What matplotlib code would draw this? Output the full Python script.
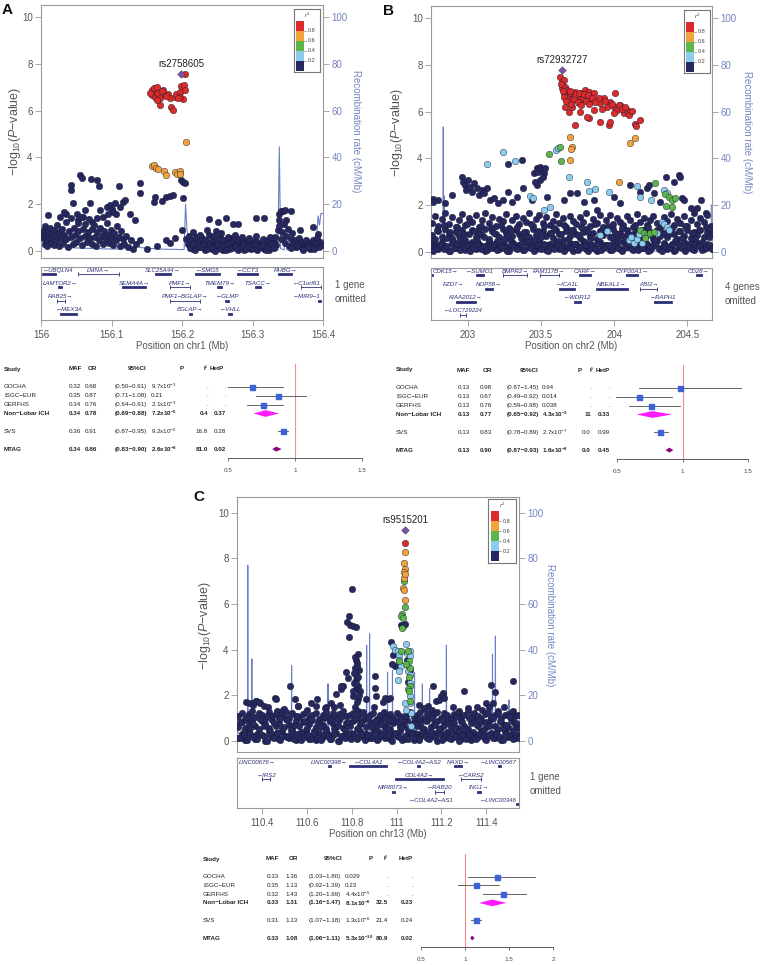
import numpy as np
import matplotlib
matplotlib.use('Agg')
import matplotlib.pyplot as plt
from matplotlib.patches import Polygon

plt.rcParams['font.family'] = ['Liberation Sans', 'DejaVu Sans']
plt.rcParams['mathtext.fontset'] = 'custom'
plt.rcParams['mathtext.rm'] = 'Liberation Sans'
plt.rcParams['mathtext.it'] = 'Liberation Sans:italic'
plt.rcParams['mathtext.bf'] = 'Liberation Sans:bold'

# ---------------- panel A (chr1) ----------------
a_lead = (156.199, 7.57)
a_red_x = [156.157, 156.160, 156.164, 156.158, 156.161, 156.166, 156.169, 156.173, 156.176, 156.180,
           156.183, 156.185, 156.187, 156.190, 156.192, 156.197, 156.199, 156.203, 156.204, 156.202,
           156.197, 156.169, 156.164, 156.155, 156.171, 156.178, 156.194, 156.204]
a_red_y = [6.89, 6.96, 7.00, 6.67, 6.60, 6.77, 6.53, 6.89, 6.67, 6.70,
           6.53, 6.17, 6.03, 6.60, 6.71, 6.81, 7.03, 7.10, 6.89, 6.49,
           6.57, 6.24, 6.46, 6.75, 6.85, 6.62, 6.55, 7.57]
a_orange_x = [156.206, 156.157, 156.160, 156.163, 156.166, 156.175, 156.177, 156.190, 156.193, 156.197, 156.197]
a_orange_y = [4.64, 3.64, 3.67, 3.53, 3.49, 3.43, 3.24, 3.39, 3.31, 3.43, 3.29]
a_navy_x = [156.010, 156.042, 156.043, 156.055, 156.058, 156.071, 156.079, 156.082, 156.110, 156.140,
            156.140, 156.160, 156.162, 156.172, 156.178, 156.183, 156.187, 156.199, 156.201, 156.204,
            156.201, 156.200, 156.093, 156.098, 156.100, 156.102, 156.095, 156.088, 156.105, 156.107,
            156.112, 156.117, 156.119, 156.084, 156.079, 156.060, 156.062, 156.051, 156.046, 156.036,
            156.027, 156.032, 156.069, 156.072, 156.053, 156.126, 156.133, 156.239, 156.251, 156.263,
            156.272, 156.279, 156.305, 156.317, 156.338, 156.341, 156.343, 156.346, 156.355, 156.338,
            156.348, 156.367, 156.386, 156.393]
a_navy_y = [1.53, 2.60, 2.81, 3.24, 3.10, 3.07, 3.03, 2.77, 2.77, 2.91,
            2.46, 2.10, 2.31, 2.13, 2.29, 2.34, 2.39, 3.03, 2.96, 2.89,
            2.27, 0.89, 1.89, 1.96, 1.81, 1.67, 1.60, 1.46, 2.03, 1.60,
            1.89, 2.10, 2.17, 1.74, 1.39, 1.46, 1.74, 1.60, 2.03, 1.60,
            1.46, 1.67, 2.03, 1.24, 1.31, 1.60, 1.31, 1.36, 1.24, 1.39,
            1.17, 1.14, 1.43, 1.41, 1.60, 1.71, 1.69, 1.74, 1.71, 1.31,
            1.31, 0.89, 1.03, 0.74]
a_band_x = [156.002, 156.003, 156.004, 156.005, 156.006, 156.007, 156.008, 156.009, 156.010, 156.011,
            156.013, 156.014, 156.015, 156.016, 156.018, 156.019, 156.020, 156.022, 156.023, 156.025,
            156.026, 156.028, 156.030, 156.031, 156.033, 156.035, 156.036, 156.038, 156.040, 156.042,
            156.043, 156.045, 156.047, 156.048, 156.050, 156.052, 156.053, 156.055, 156.057, 156.058,
            156.060, 156.062, 156.063, 156.065, 156.067, 156.068, 156.070, 156.072, 156.073, 156.075,
            156.077, 156.078, 156.080, 156.082, 156.084, 156.086, 156.088, 156.090, 156.092, 156.093,
            156.095, 156.097, 156.099, 156.100, 156.102, 156.104, 156.106, 156.108, 156.110, 156.112,
            156.114, 156.116, 156.118, 156.121, 156.124, 156.127, 156.131, 156.135, 156.141, 156.150,
            156.165, 156.178, 156.183, 156.190, 156.205, 156.208, 156.210, 156.212, 156.214, 156.216,
            156.218, 156.220, 156.222, 156.224, 156.226, 156.228, 156.230, 156.232, 156.234, 156.236,
            156.238, 156.240, 156.242, 156.244, 156.246, 156.248, 156.250, 156.252, 156.254, 156.256,
            156.258, 156.260, 156.262, 156.264, 156.266, 156.268, 156.270, 156.272, 156.274, 156.276,
            156.278, 156.280, 156.282, 156.284, 156.286, 156.288, 156.290, 156.292, 156.294, 156.296,
            156.298, 156.300, 156.302, 156.304, 156.306, 156.308, 156.310, 156.312, 156.314, 156.316,
            156.318, 156.320, 156.322, 156.324, 156.326, 156.328, 156.330, 156.332, 156.334, 156.336,
            156.338, 156.340, 156.342, 156.344, 156.346, 156.348, 156.350, 156.352, 156.354, 156.356,
            156.358, 156.360, 156.362, 156.364, 156.366, 156.368, 156.370, 156.372, 156.374, 156.376,
            156.378, 156.380, 156.382, 156.384, 156.386, 156.388, 156.390, 156.392, 156.394, 156.396,
            156.398, 156.215, 156.225, 156.235, 156.245, 156.255, 156.265, 156.275, 156.285, 156.295,
            156.305, 156.315, 156.325]
a_band_y = [0.75, 0.55, 0.90, 0.30, 1.05, 0.70, 0.45, 0.20, 0.85, 0.60,
            1.00, 0.35, 0.75, 0.55, 0.90, 0.25, 0.65, 0.45, 1.10, 0.80,
            0.20, 0.60, 0.95, 0.35, 0.70, 1.25, 0.50, 0.15, 0.85, 0.60,
            1.40, 0.30, 1.00, 0.70, 0.40, 1.20, 0.85, 0.55, 1.45, 0.25,
            0.95, 0.65, 1.15, 0.40, 0.80, 1.35, 0.55, 0.30, 0.95, 1.10,
            0.60, 0.20, 0.80, 0.45, 1.00, 0.65, 0.30, 0.85, 0.50, 1.20,
            0.70, 0.35, 0.90, 0.55, 0.25, 0.75, 0.45, 1.05, 0.60, 0.20,
            0.85, 0.50, 0.30, 0.65, 0.15, 0.45, 0.10, 0.30, 0.45, 0.10,
            0.20, 0.45, 0.35, 0.55, 0.50, 0.30, 0.65, 0.20, 0.45, 0.10,
            0.35, 0.60, 0.25, 0.40, 0.15, 0.55, 0.30, 0.05, 0.45, 0.20,
            0.70, 0.35, 0.10, 0.50, 0.25, 0.85, 0.40, 0.15, 0.60, 0.30,
            0.05, 0.45, 0.20, 0.35, 0.10, 0.55, 0.25, 0.40, 0.15, 0.30,
            0.50, 0.10, 0.35, 0.20, 0.45, 0.05, 0.30, 0.15, 0.40, 0.25,
            0.10, 0.35, 0.20, 0.45, 0.05, 0.30, 0.15, 0.40, 0.25, 0.10,
            0.35, 0.20, 0.45, 0.05, 0.30, 0.15, 0.40, 0.60, 0.25, 0.90,
            1.05, 0.50, 0.80, 1.15, 0.35, 0.65, 0.95, 0.20, 0.50, 0.75,
            0.30, 0.45, 0.15, 0.35, 0.55, 0.20, 0.40, 0.10, 0.30, 0.45,
            0.20, 0.35, 0.10, 0.25, 0.45, 0.15, 0.35, 0.55, 0.20, 0.40,
            0.25, 0.80, 0.70, 0.90, 0.65, 0.75, 0.60, 0.70, 0.60, 0.55,
            0.65, 0.50, 0.60]
a_band2_x = [156.211, 156.215, 156.219, 156.223, 156.227, 156.231, 156.235, 156.239, 156.243, 156.247,
             156.251, 156.255, 156.259, 156.263, 156.267, 156.271, 156.275, 156.279, 156.283, 156.287,
             156.291, 156.295, 156.299, 156.303, 156.307, 156.311, 156.315, 156.319, 156.323, 156.327,
             156.331, 156.355, 156.363, 156.371, 156.379, 156.387, 156.395]
a_band2_y = [0.12, 0.28, 0.05, 0.22, 0.15, 0.30, 0.08, 0.25, 0.18, 0.02,
             0.27, 0.10, 0.20, 0.06, 0.29, 0.14, 0.23, 0.04, 0.17, 0.26,
             0.09, 0.21, 0.13, 0.30, 0.07, 0.19, 0.24, 0.03, 0.16, 0.28,
             0.11, 0.12, 0.25, 0.06, 0.18, 0.08, 0.15]
a_rec_x = [156.000, 156.030, 156.060, 156.090, 156.115, 156.125, 156.130, 156.135, 156.140, 156.150,
           156.170, 156.200, 156.203, 156.205, 156.207, 156.209, 156.212, 156.250, 156.300, 156.336,
           156.338, 156.340, 156.345, 156.347, 156.349, 156.370, 156.390, 156.393, 156.395, 156.397, 156.400]
a_rec_y = [1.8, 1.5, 1.2, 0.9, 0.8, 2.0, 3.5, 4.0, 1.5, 1.2,
           0.8, 0.6, 0.6, 20.0, 9.0, 6.0, 0.4, 0.3, 0.3, 0.3,
           44.5, 1.0, 0.5, 9.0, 0.5, 0.5, 0.6, 15.0, 11.0, 16.0, 16.0]
a_gene_names = ['UBQLN4', 'LMNA', 'SLC25A44', 'SMG5', 'CCT3', 'RHBG', 'LAMTOR2', 'SEMA4A', 'PMF1', 'TMEM79',
                'TSACC', 'C1orf61', 'RAB25', 'PMF1−BGLAP', 'GLMP', 'MIR9−1', 'MEX3A', 'BGLAP', 'VHLL']
a_gene_start = [156.003, 156.053, 156.163, 156.220, 156.279, 156.338, 156.025, 156.117, 156.183, 156.251,
                156.305, 156.369, 156.022, 156.183, 156.263, 156.395, 156.029, 156.211, 156.267]
a_gene_end = [156.020, 156.110, 156.183, 156.253, 156.307, 156.355, 156.028, 156.147, 156.211, 156.256,
              156.310, 156.397, 156.034, 156.225, 156.265, 156.396, 156.050, 156.213, 156.269]
a_gene_row = [0, 0, 0, 0, 0, 0, 1, 1, 1, 1, 1, 1, 2, 2, 2, 2, 3, 3, 3]
a_gene_strand = ['-', '+', '+', '-', '-', '+', '+', '+', '+', '+', '+', '-', '+', '+', '-', '-', '-', '+', '-']
a_gene_solid = [1, 0, 1, 1, 1, 1, 1, 1, 0, 1, 1, 0, 0, 0, 1, 1, 1, 1, 1]

a_study = ['GOCHA', 'ISGC−EUR', 'GERFHS', 'Non−Lobar ICH', 'SVS', 'MTAG']
a_maf = [0.32, 0.35, 0.34, 0.34, 0.36, 0.34]
a_or = [0.68, 0.87, 0.76, 0.78, 0.91, 0.86]
a_lo = [0.50, 0.71, 0.64, 0.69, 0.87, 0.83]
a_hi = [0.91, 1.08, 0.91, 0.88, 0.95, 0.90]
a_p = ['9.7x10^-3', '0.21', '2.1x10^-3', '7.2x10^-5', '9.2x10^-5', '2.6x10^-8']
a_i2 = ['.', '.', '.', '0.4', '16.8', '81.0']
a_hetp = ['.', '.', '.', '0.37', '0.28', '0.02']

# ---------------- panel B (chr2) ----------------
b_lead = (203.642, 7.79)
b_red_x = [203.631, 203.642, 203.654, 203.642, 203.665, 203.654, 203.677, 203.688, 203.700, 203.711,
           203.722, 203.734, 203.745, 203.757, 203.768, 203.780, 203.791, 203.803, 203.814, 203.825,
           203.837, 203.860, 203.883, 203.905, 203.928, 203.951, 203.974, 203.997, 204.008, 204.020,
           204.043, 204.066, 204.088, 204.111, 204.146, 204.180, 204.148, 203.734, 203.825, 203.905,
           203.963, 203.974, 203.665, 203.688, 203.711, 203.768, 203.814, 203.860, 203.997, 203.636,
           203.648, 203.660, 203.672, 203.695, 203.705, 203.728, 203.740, 203.750, 203.762, 203.775,
           203.785, 203.797, 203.808, 203.820, 203.830, 203.845, 203.870, 203.895, 203.915, 203.940,
           203.985, 204.030, 204.055, 204.075, 204.100, 204.123]
b_red_y = [7.50, 7.29, 7.36, 7.00, 7.07, 6.79, 6.93, 6.64, 6.79, 6.50,
           6.71, 6.86, 6.57, 6.36, 6.64, 6.79, 6.50, 6.93, 6.64, 6.86,
           6.50, 6.79, 6.50, 6.36, 6.57, 6.21, 6.43, 6.21, 6.79, 6.07,
           6.29, 5.93, 6.07, 6.00, 5.47, 5.64, 5.39, 5.43, 5.71, 5.57,
           5.43, 5.57, 6.21, 6.00, 6.21, 6.00, 5.76, 6.07, 5.93, 7.20,
           6.90, 6.65, 6.45, 6.90, 6.35, 6.55, 6.75, 6.40, 6.80, 6.30,
           6.60, 6.75, 6.45, 6.70, 6.35, 6.60, 6.40, 6.60, 6.10, 6.45,
           6.35, 6.30, 6.10, 6.20, 5.85, 6.05]
b_orange_x = [203.700, 203.711, 203.705, 203.700, 204.036, 204.111, 204.146]
b_orange_y = [4.93, 4.50, 4.39, 3.93, 3.00, 4.67, 4.86]
b_green_x = [203.551, 203.631, 203.638, 204.283, 204.351, 204.374, 204.397, 204.420, 204.356, 204.397,
             204.180, 204.203, 204.226, 204.248, 204.271, 204.214]
b_green_y = [4.19, 4.50, 3.90, 2.93, 2.47, 2.36, 2.21, 2.29, 1.97, 1.90,
             0.93, 0.79, 0.71, 0.79, 0.86, 0.57]
b_lblue_x = [203.132, 203.242, 203.318, 203.425, 203.443, 203.517, 203.562, 203.604, 203.613, 203.688,
             203.814, 203.825, 203.867, 203.963, 204.157, 204.180, 204.253, 204.340, 204.363, 203.905,
             203.951, 204.100, 204.116, 204.134, 204.157, 204.168, 204.191, 204.294, 204.328, 204.340,
             204.363, 204.374]
b_lblue_y = [3.74, 4.29, 3.90, 2.39, 2.31, 1.79, 1.90, 4.36, 4.46, 3.21,
             3.00, 2.61, 2.67, 2.57, 2.81, 2.33, 2.21, 2.64, 2.50, 0.71,
             0.90, 0.50, 0.61, 0.39, 0.53, 0.76, 0.36, 0.79, 1.29, 1.19,
             1.07, 0.93]
b_navy_x = [202.757, 202.762, 202.796, 202.842, 202.888, 202.956, 202.963, 202.979, 202.986, 203.002,
            203.013, 203.025, 203.041, 203.059, 203.078, 203.094, 203.110, 203.128, 203.151, 203.174,
            203.208, 203.238, 203.272, 203.272, 203.299, 203.334, 203.368, 203.379, 203.437, 203.453,
            203.471, 203.482, 203.494, 203.505, 203.517, 203.528, 203.489, 203.512, 203.475, 203.460,
            203.539, 203.654, 203.695, 203.745, 203.791, 203.860, 203.883, 203.997, 204.043, 204.111,
            204.180, 204.226, 204.239, 204.271, 204.317, 204.358, 204.409, 204.443, 204.454, 204.466,
            204.477, 204.523, 204.569, 204.592, 204.626]
b_navy_y = [2.24, 2.14, 2.21, 2.07, 2.43, 3.21, 3.00, 2.86, 2.64, 3.07,
            2.79, 2.57, 2.93, 2.71, 2.43, 2.64, 2.50, 2.71, 2.21, 2.29,
            2.07, 2.21, 3.74, 2.57, 2.14, 2.36, 3.93, 2.71, 2.21, 3.36,
            3.57, 3.43, 3.64, 3.50, 3.36, 3.57, 3.07, 3.21, 2.86, 3.00,
            2.36, 2.21, 2.50, 2.53, 2.14, 2.21, 1.79, 2.36, 2.07, 2.86,
            2.57, 2.71, 2.86, 2.50, 2.14, 3.19, 3.00, 3.29, 3.21, 2.29,
            2.21, 1.86, 1.86, 2.21, 1.64]
b_band_x = [202.752, 202.776, 202.797, 202.822, 202.843, 202.868, 202.889, 202.914, 202.935, 202.960,
            202.981, 203.006, 203.027, 203.052, 203.073, 203.098, 203.119, 203.144, 203.165, 203.190,
            203.211, 203.236, 203.257, 203.282, 203.303, 203.328, 203.349, 203.374, 203.395, 203.420,
            203.441, 203.466, 203.487, 203.512, 203.533, 203.558, 203.579, 203.604, 203.625, 203.650,
            203.671, 203.696, 203.717, 203.742, 203.763, 203.788, 203.809, 203.834, 203.855, 203.880,
            203.901, 203.926, 203.947, 203.972, 203.993, 204.018, 204.039, 204.064, 204.085, 204.110,
            204.131, 204.156, 204.177, 204.202, 204.223, 204.248, 204.269, 204.294, 204.315, 204.340,
            204.361, 204.386, 204.407, 204.432, 204.453, 204.478, 204.499, 204.524, 204.545, 204.570,
            204.591, 204.616, 204.637, 204.661]
b_band_y0 = [0.20, 0.35, 0.10, 0.42, 0.25, 0.05, 0.38, 0.15, 0.30, 0.45,
             0.08, 0.28, 0.40, 0.12, 0.33, 0.22, 0.05, 0.44, 0.18, 0.30,
             0.10, 0.36, 0.25, 0.04, 0.41, 0.16, 0.29, 0.07, 0.38, 0.21,
             0.33, 0.12, 0.45, 0.26, 0.06, 0.35, 0.19, 0.42, 0.10, 0.28,
             0.15, 0.39, 0.05, 0.31, 0.22, 0.44, 0.11, 0.34, 0.27, 0.03,
             0.40, 0.18, 0.30, 0.09, 0.37, 0.24, 0.13, 0.43, 0.20, 0.32,
             0.06, 0.27, 0.41, 0.15, 0.35, 0.08, 0.29, 0.44, 0.17, 0.38,
             0.11, 0.25, 0.04, 0.36, 0.21, 0.42, 0.14, 0.31, 0.07, 0.39,
             0.23, 0.12, 0.34, 0.26]
b_band_y1 = [0.72, 0.55, 0.90, 0.63, 0.98, 0.80, 0.58, 0.85, 0.67, 0.93,
             0.52, 0.77, 0.95, 0.61, 0.84, 0.70, 0.99, 0.56, 0.88, 0.74,
             0.62, 0.96, 0.81, 0.53, 0.69, 0.91, 0.76, 0.59, 0.86, 0.65,
             0.97, 0.73, 0.54, 0.89, 0.68, 0.82, 0.60, 0.94, 0.78, 0.51,
             0.87, 0.66, 0.92, 0.75, 0.57, 0.83, 0.99, 0.64, 0.79, 0.55,
             0.90, 0.71, 0.85, 0.62, 0.96, 0.58, 0.80, 0.68, 0.93, 0.52,
             0.77, 0.88, 0.60, 0.95, 0.73, 0.84, 0.56, 0.91, 0.69, 0.81,
             0.63, 0.98, 0.75, 0.54, 0.87, 0.66, 0.92, 0.59, 0.83, 0.72,
             0.95, 0.61, 0.86, 0.78]
b_band_y2 = [1.25, 1.55, 1.10, 1.40, 1.68, 1.20, 1.48, 1.05, 1.35, 1.62,
             1.15, 1.45, 1.28, 1.58, 1.08, 1.38, 1.66, 1.22, 1.50, 1.12,
             1.42, 1.30, 1.60, 1.02, 1.36, 1.52, 1.18, 1.46, 1.26, 1.64,
             1.09, 1.39, 1.57, 1.21, 1.49, 1.14, 1.33, 1.61, 1.24, 1.44,
             1.06, 1.54, 1.31, 1.17, 1.47, 1.27, 1.65, 1.11, 1.41, 1.23,
             1.56, 1.04, 1.37, 1.59, 1.19, 1.43, 1.29, 1.13, 1.51, 1.34,
             1.07, 1.63, 1.26, 1.45, 1.16, 1.38, 1.55, 1.21, 1.03, 1.48,
             1.32, 1.60, 1.14, 1.42, 1.25, 1.53, 1.09, 1.36, 1.67, 1.18,
             1.44, 1.28, 1.57, 1.12]
b_band2_x = [202.763, 202.786, 202.809, 202.832, 202.855, 202.878, 202.901, 202.924, 202.947, 202.970,
             202.993, 203.016, 203.039, 203.062, 203.085, 203.108, 203.131, 203.154, 203.177, 203.200,
             203.223, 203.246, 203.269, 203.292, 203.315, 203.338, 203.361, 203.384, 203.407, 203.430,
             203.453, 203.476, 203.499, 203.522, 203.545, 203.568, 203.591, 203.614, 203.637, 203.660,
             203.683, 203.706, 203.729, 203.752, 203.775, 203.798, 203.821, 203.844, 203.867, 203.890,
             203.913, 203.936, 203.959, 203.982, 204.005, 204.028, 204.051, 204.074, 204.097, 204.120,
             204.143, 204.166, 204.189, 204.212, 204.235, 204.258, 204.281, 204.304, 204.327, 204.350,
             204.373, 204.396, 204.419, 204.442, 204.465, 204.488, 204.511, 204.534, 204.557, 204.580,
             204.603, 204.626, 204.649, 204.668]
b_band_y3 = [0.45, 0.95, 0.30, 1.15, 0.60, 0.85, 0.40, 1.05, 0.55, 0.75,
             1.20, 0.35, 0.90, 0.50, 1.10, 0.65, 0.30, 1.00, 0.80, 0.45,
             1.15, 0.55, 0.70, 0.95, 0.35, 1.05, 0.60, 0.85, 0.40, 1.20,
             0.50, 0.90, 0.65, 1.10, 0.30, 0.80, 1.00, 0.45, 0.75, 1.15,
             0.55, 0.95, 0.35, 0.70, 1.05, 0.40, 0.85, 0.60, 1.20, 0.50,
             0.90, 0.30, 1.10, 0.65, 0.80, 0.45, 1.00, 0.55, 0.75, 0.35,
             1.15, 0.60, 0.95, 0.40, 1.05, 0.70, 0.50, 0.85, 1.20, 0.30,
             0.75, 1.00, 0.45, 0.90, 0.60, 1.10, 0.35, 0.80, 0.55, 0.95,
             0.40, 1.05, 0.65, 0.85]
b_band_y4 = [0.05, 0.18, 0.30, 0.10, 0.25, 0.02, 0.15, 0.33, 0.08, 0.22,
             0.28, 0.04, 0.17, 0.35, 0.12, 0.26, 0.06, 0.20, 0.31, 0.09,
             0.24, 0.14, 0.03, 0.29, 0.19, 0.11, 0.34, 0.07, 0.23, 0.16,
             0.01, 0.27, 0.13, 0.32, 0.05, 0.21, 0.10, 0.30, 0.18, 0.04,
             0.25, 0.15, 0.33, 0.08, 0.20, 0.28, 0.02, 0.17, 0.12, 0.35,
             0.06, 0.22, 0.30, 0.09, 0.26, 0.14, 0.03, 0.19, 0.31, 0.11,
             0.24, 0.07, 0.16, 0.34, 0.01, 0.21, 0.29, 0.13, 0.05, 0.23,
             0.18, 0.32, 0.08, 0.27, 0.15, 0.02, 0.20, 0.10, 0.33, 0.25,
             0.06, 0.17, 0.28, 0.12]
b_rec_x = [202.746, 202.800, 202.829, 202.830, 202.831, 202.834, 202.835, 202.836, 202.900, 203.300,
           203.800, 204.300, 204.660, 204.664, 204.665, 204.670]
b_rec_y = [0.5, 0.5, 0.5, 53.5, 0.8, 0.8, 24.0, 0.6, 0.4, 0.3,
           0.3, 0.3, 0.4, 0.4, 20.0, 20.0]
b_gene_names = ['CDK15', 'SUMO1', 'BMPR2', 'FAM117B', 'CARF', 'CYP20A1', 'CD28', 'FZD7', 'NOP58', 'ICA1L',
                'NBEAL1', 'ABI2', 'KIAA2012', 'WDR12', 'RAPH1', 'LOC729224']
b_gene_start = [202.748, 203.060, 203.242, 203.494, 203.768, 204.088, 204.569, 202.895, 203.123, 203.631,
                203.883, 204.180, 202.922, 203.734, 204.283, 202.945]
b_gene_end = [202.755, 203.105, 203.402, 203.620, 203.837, 204.157, 204.592, 202.899, 203.162, 203.722,
              204.088, 204.294, 203.048, 203.768, 204.386, 202.986]
b_gene_row = [0, 0, 0, 0, 0, 0, 0, 1, 1, 1, 1, 1, 2, 2, 2, 3]
b_gene_strand = ['+', '-', '+', '+', '+', '+', '+', '+', '+', '-', '+', '+', '+', '-', '-', '-']
b_gene_solid = [1, 1, 0, 0, 1, 1, 1, 1, 1, 1, 1, 0, 1, 1, 1, 0]

b_study = ['GOCHA', 'ISGC−EUR', 'GERFHS', 'Non−Lobar ICH', 'SVS', 'MTAG']
b_maf = [0.13, 0.13, 0.13, 0.13, 0.13, 0.13]
b_or = [0.98, 0.67, 0.76, 0.77, 0.83, 0.90]
b_lo = [0.67, 0.49, 0.59, 0.65, 0.78, 0.87]
b_hi = [1.45, 0.92, 0.98, 0.92, 0.89, 0.93]
b_p = ['0.94', '0.014', '0.038', '4.3x10^-3', '2.7x10^-7', '1.6x10^-8']
b_i2 = ['.', '.', '.', '11', '0.0', '0.0']
b_hetp = ['.', '.', '.', '0.33', '0.99', '0.45']

# ---------------- panel C (chr13) ----------------
c_lead = (111.039, 9.24)
c_red_x = [111.039]
c_red_y = [8.66]
c_orange_x = [111.039, 111.031, 111.036, 111.034, 111.031, 111.028, 111.031, 111.039, 111.036]
c_orange_y = [8.30, 7.79, 7.53, 7.42, 7.13, 6.70, 6.62, 6.19, 7.30]
c_green_x = [111.033, 111.036, 111.025, 111.021, 111.028, 111.024, 111.013, 111.018, 111.050, 111.055,
             111.058, 111.055, 111.058, 111.052, 111.055, 111.058, 111.043]
c_green_y = [6.99, 5.87, 5.57, 5.46, 5.39, 4.95, 3.49, 3.93, 3.93, 3.49,
             3.20, 2.81, 2.43, 2.26, 2.18, 1.75, 3.38]
c_lblue_x = [110.984, 110.991, 111.006, 111.013, 111.013, 111.021, 111.013, 111.006, 111.043, 111.047,
             111.058, 111.061, 111.055, 111.050, 111.058, 111.061, 111.058, 111.062, 111.064, 111.065,
             111.040, 111.036]
c_lblue_y = [4.15, 4.00, 3.93, 3.78, 3.57, 3.28, 3.06, 2.69, 4.26, 3.86,
             3.93, 3.71, 3.20, 3.06, 2.91, 2.55, 1.97, 1.67, 1.24, 0.66,
             1.38, 1.67]
c_navy_x = [110.802, 110.788, 110.781, 110.791, 110.806, 110.818, 110.788, 110.828, 110.821, 110.824,
            110.813, 110.833, 110.818, 110.821, 110.810, 110.828, 110.818, 110.836, 110.806, 110.828,
            110.762, 110.753, 110.732, 110.784, 110.776, 110.905, 110.902, 110.910, 110.976, 110.984,
            110.991, 110.979, 111.021, 111.028, 111.039, 111.047, 111.058, 111.050, 110.524, 110.547,
            110.458, 110.462, 110.647, 110.754, 111.162, 111.302, 111.421, 111.436, 111.517, 111.206,
            111.196, 111.176, 111.139, 111.339, 111.399, 111.428, 110.961, 110.950, 110.865, 110.710,
            110.687, 110.621, 110.562, 110.495, 110.376, 110.391, 110.362]
c_navy_y = [6.65, 5.46, 5.20, 5.09, 5.02, 4.98, 4.56, 3.83, 3.57, 3.42,
            3.20, 3.13, 2.91, 2.69, 2.55, 2.40, 2.26, 2.18, 1.97, 1.82,
            2.40, 2.26, 2.08, 2.77, 3.03, 2.84, 2.33, 1.97, 4.32, 3.78,
            3.28, 3.39, 5.09, 5.02, 5.14, 3.57, 3.13, 2.59, 2.40, 1.85,
            1.89, 1.82, 1.82, 2.40, 2.40, 2.18, 2.47, 2.14, 2.62, 2.11,
            1.97, 1.75, 1.53, 1.09, 1.67, 1.67, 1.82, 1.89, 1.82, 1.67,
            1.50, 1.67, 1.53, 1.38, 1.75, 1.67, 1.67]
c_mid_x = [110.330, 110.345, 110.360, 110.375, 110.390, 110.410, 110.430, 110.470, 110.500, 110.560,
           110.600, 110.640, 110.680, 110.720, 110.750, 110.900, 110.940, 110.970, 111.100, 111.120,
           111.160, 111.190, 111.210, 111.250, 111.280, 111.320, 111.360, 111.380, 111.410, 111.450,
           111.480, 111.520, 110.815, 110.825, 110.812, 110.830, 110.820, 110.808, 110.835, 110.822,
           110.816, 110.827]
c_mid_y = [1.70, 1.65, 1.60, 1.75, 1.70, 1.55, 1.50, 1.30, 1.40, 1.55,
           1.35, 1.55, 1.45, 1.50, 1.60, 1.50, 1.70, 1.90, 1.60, 1.45,
           1.35, 1.80, 1.90, 1.50, 1.30, 1.45, 1.50, 1.35, 1.50, 1.30,
           1.50, 1.30, 3.70, 3.30, 3.00, 2.80, 2.50, 2.20, 2.00, 1.70,
           1.50, 1.30]
c_band_x = [110.296, 110.312, 110.326, 110.342, 110.356, 110.372, 110.386, 110.402, 110.416, 110.432,
            110.446, 110.462, 110.476, 110.492, 110.506, 110.522, 110.536, 110.552, 110.566, 110.582,
            110.596, 110.612, 110.626, 110.642, 110.656, 110.672, 110.686, 110.702, 110.716, 110.732,
            110.746, 110.762, 110.776, 110.792, 110.806, 110.822, 110.836, 110.852, 110.866, 110.882,
            110.896, 110.912, 110.926, 110.942, 110.956, 110.972, 110.986, 111.002, 111.016, 111.032,
            111.046, 111.062, 111.076, 111.092, 111.106, 111.122, 111.136, 111.152, 111.166, 111.182,
            111.196, 111.212, 111.226, 111.242, 111.256, 111.272, 111.286, 111.302, 111.316, 111.332,
            111.346, 111.362, 111.376, 111.392, 111.406, 111.422, 111.436, 111.452, 111.466, 111.482,
            111.496, 111.512, 111.526, 111.540]
c_band_y0 = [0.15, 0.32, 0.05, 0.40, 0.22, 0.10, 0.36, 0.27, 0.02, 0.44,
             0.18, 0.30, 0.08, 0.38, 0.24, 0.13, 0.42, 0.06, 0.33, 0.20,
             0.45, 0.11, 0.28, 0.04, 0.37, 0.17, 0.41, 0.09, 0.26, 0.34,
             0.01, 0.23, 0.39, 0.14, 0.31, 0.07, 0.43, 0.19, 0.29, 0.12,
             0.35, 0.03, 0.25, 0.40, 0.16, 0.08, 0.33, 0.21, 0.44, 0.10,
             0.27, 0.38, 0.05, 0.30, 0.18, 0.42, 0.13, 0.24, 0.36, 0.02,
             0.29, 0.15, 0.41, 0.07, 0.34, 0.22, 0.11, 0.39, 0.26, 0.04,
             0.32, 0.17, 0.45, 0.09, 0.28, 0.37, 0.14, 0.23, 0.06, 0.40,
             0.19, 0.31, 0.12, 0.25]
c_band_y1 = [0.62, 0.85, 0.55, 0.78, 0.93, 0.68, 0.51, 0.88, 0.74, 0.59,
             0.91, 0.66, 0.80, 0.53, 0.95, 0.71, 0.57, 0.86, 0.64, 0.82,
             0.50, 0.76, 0.92, 0.60, 0.84, 0.69, 0.54, 0.89, 0.73, 0.63,
             0.94, 0.58, 0.79, 0.67, 0.87, 0.52, 0.75, 0.90, 0.61, 0.83,
             0.56, 0.70, 0.94, 0.65, 0.81, 0.53, 0.77, 0.88, 0.60, 0.72,
             0.92, 0.57, 0.84, 0.66, 0.79, 0.51, 0.90, 0.63, 0.75, 0.86,
             0.55, 0.70, 0.93, 0.62, 0.81, 0.58, 0.87, 0.68, 0.54, 0.78,
             0.91, 0.64, 0.83, 0.59, 0.74, 0.95, 0.67, 0.52, 0.85, 0.71,
             0.61, 0.89, 0.76, 0.56]
c_band_y2 = [1.10, 1.25, 0.98, 1.18, 1.30, 1.05, 1.22, 1.12, 0.96, 1.27,
             1.08, 1.20, 1.02, 1.15, 1.28, 0.99, 1.24, 1.11, 1.06, 1.19,
             1.29, 1.03, 1.16, 1.23, 0.97, 1.13, 1.26, 1.07, 1.21, 1.00,
             1.17, 1.30, 1.09, 1.14, 1.25, 1.01, 1.19, 1.28, 1.04, 1.12,
             1.22, 0.98, 1.16, 1.27, 1.08, 1.20, 1.03, 1.24, 1.11, 0.96,
             1.18, 1.29, 1.06, 1.14, 1.26, 1.00, 1.21, 1.09, 1.17, 1.28,
             1.02, 1.23, 1.13, 0.99, 1.19, 1.25, 1.05, 1.15, 1.30, 1.07,
             1.22, 1.10, 0.97, 1.18, 1.27, 1.04, 1.16, 1.24, 1.01, 1.12,
             1.20, 1.29, 1.08, 1.14]
c_band2_x = [110.303, 110.319, 110.333, 110.349, 110.363, 110.379, 110.393, 110.409, 110.423, 110.439,
             110.453, 110.469, 110.483, 110.499, 110.513, 110.529, 110.543, 110.559, 110.573, 110.589,
             110.603, 110.619, 110.633, 110.649, 110.663, 110.679, 110.693, 110.709, 110.723, 110.739,
             110.753, 110.769, 110.783, 110.799, 110.813, 110.829, 110.843, 110.859, 110.873, 110.889,
             110.903, 110.919, 110.933, 110.949, 110.963, 110.979, 110.993, 111.009, 111.023, 111.039,
             111.053, 111.069, 111.083, 111.099, 111.113, 111.129, 111.143, 111.159, 111.173, 111.189,
             111.203, 111.219, 111.233, 111.249, 111.263, 111.279, 111.293, 111.309, 111.323, 111.339,
             111.353, 111.369, 111.383, 111.399, 111.413, 111.429, 111.443, 111.459, 111.473, 111.489,
             111.503, 111.519, 111.533, 111.543]
c_band_y3 = [0.85, 0.40, 1.05, 0.55, 0.75, 0.30, 0.95, 0.65, 1.10, 0.45,
             0.80, 0.35, 1.00, 0.60, 0.90, 0.50, 0.70, 1.08, 0.38, 0.88,
             0.58, 0.98, 0.42, 0.78, 0.62, 1.02, 0.33, 0.92, 0.52, 0.72,
             1.06, 0.47, 0.83, 0.37, 0.97, 0.57, 0.77, 0.31, 1.04, 0.67,
             0.87, 0.43, 0.73, 1.01, 0.53, 0.93, 0.36, 0.81, 0.63, 1.09,
             0.48, 0.76, 0.34, 0.96, 0.59, 0.86, 0.41, 1.03, 0.69, 0.51,
             0.91, 0.32, 0.79, 0.61, 1.07, 0.44, 0.84, 0.54, 0.99, 0.39,
             0.74, 0.94, 0.46, 0.82, 0.64, 1.00, 0.35, 0.89, 0.56, 0.71,
             1.05, 0.49, 0.80, 0.60]
c_band_y4 = [0.12, 0.27, 0.04, 0.33, 0.18, 0.08, 0.30, 0.21, 0.01, 0.25,
             0.14, 0.34, 0.06, 0.23, 0.16, 0.29, 0.10, 0.32, 0.03, 0.19,
             0.26, 0.09, 0.35, 0.15, 0.05, 0.28, 0.20, 0.11, 0.31, 0.02,
             0.24, 0.13, 0.33, 0.07, 0.22, 0.17, 0.30, 0.04, 0.26, 0.12,
             0.35, 0.09, 0.21, 0.15, 0.28, 0.02, 0.32, 0.18, 0.06, 0.24,
             0.11, 0.29, 0.14, 0.03, 0.34, 0.20, 0.08, 0.27, 0.16, 0.31,
             0.05, 0.23, 0.13, 0.35, 0.19, 0.01, 0.26, 0.10, 0.30, 0.15,
             0.07, 0.33, 0.21, 0.04, 0.25, 0.12, 0.29, 0.17, 0.03, 0.32,
             0.22, 0.09, 0.27, 0.14]
c_rec_x = [110.290, 110.300, 110.337, 110.338, 110.339, 110.355, 110.356, 110.357, 110.400, 110.450,
           110.532, 110.533, 110.534, 110.600, 110.692, 110.693, 110.695, 110.697, 110.698, 110.780,
           110.866, 110.867, 110.868, 110.879, 110.880, 110.881, 110.930, 110.959, 110.960, 110.961,
           110.981, 110.982, 110.983, 111.030, 111.079, 111.080, 111.081, 111.114, 111.115, 111.116,
           111.146, 111.147, 111.148, 111.180, 111.221, 111.222, 111.223, 111.300, 111.426, 111.427,
           111.428, 111.439, 111.440, 111.441, 111.499, 111.500, 111.501, 111.545]
c_rec_y = [5, 3, 2, 77, 2, 2, 36, 3, 2, 2,
           2, 33, 2, 2, 2, 25, 3, 25, 2, 2,
           2, 42, 3, 3, 47, 2, 2, 2, 30, 3,
           3, 31, 2, 2, 2, 30, 2, 2, 25, 2,
           2, 23, 2, 2, 2, 42, 2, 2, 2, 38,
           3, 3, 46, 2, 2, 18, 2, 2]
c_gene_names = ['LINC00676', 'LINC00398', 'COL4A1', 'COL4A2−AS2', 'NAXD', 'LINC00567', 'IRS2', 'COL4A2',
                'CARS2', 'MIR8073', 'RAB20', 'ING1', 'COL4A2−AS1', 'LINC00346']
c_gene_start = [110.378, 110.701, 110.794, 111.097, 111.258, 111.456, 110.403, 110.999,
                111.288, 110.986, 111.169, 111.362, 111.153, 111.538]
c_gene_end = [110.380, 110.703, 110.954, 111.101, 111.288, 111.460, 110.438, 111.206,
              111.376, 110.988, 111.213, 111.370, 111.155, 111.540]
c_gene_row = [0, 0, 0, 0, 0, 0, 1, 1, 1, 2, 2, 2, 3, 3]
c_gene_strand = ['+', '+', '-', '-', '+', '-', '-', '+', '-', '+', '-', '+', '-', '-']
c_gene_solid = [1, 1, 1, 1, 1, 1, 0, 1, 0, 1, 0, 1, 1, 1]

c_study = ['GOCHA', 'ISGC−EUR', 'GERFHS', 'Non−Lobar ICH', 'SVS', 'MTAG']
c_maf = [0.33, 0.35, 0.32, 0.33, 0.31, 0.33]
c_or = [1.36, 1.13, 1.43, 1.31, 1.13, 1.08]
c_lo = [1.03, 0.92, 1.20, 1.16, 1.07, 1.06]
c_hi = [1.80, 1.39, 1.69, 1.47, 1.18, 1.11]
c_p = ['0.029', '0.23', '4.4x10^-5', '8.1x10^-6', '1.3x10^-6', '5.3x10^-10']
c_i2 = ['.', '.', '.', '32.5', '21.4', '80.9']
c_hetp = ['.', '.', '.', '0.23', '0.24', '0.02']

r2_breaks = [0.0, 0.2, 0.4, 0.6, 0.8, 1.0]

# ---------------- styling ----------------
W, H = 760, 965
R2_COLORS = ['#26285f', '#8ccdee', '#5db64a', '#f2a43a', '#dc2b2b']
LEAD_COLOR = '#7a55a8'
REC_COLOR = '#6b80c4'
RIGHT_COLOR = '#7585c2'
GRAY = '#555555'
EDGE = '#9a9a9a'
GENE_COLOR = '#2b2f78'
ROWS = [2, 3, 4, 5, 7, 9]

fig = plt.figure(figsize=(W / 100, H / 100), dpi=100)


def px_axes(x0, y0, x1, y1):
    return fig.add_axes([x0 / W, 1 - y1 / H, (x1 - x0) / W, (y1 - y0) / H])


def ftext(x, y, s, **kw):
    fig.text(x / W, 1 - y / H, s, **kw)


def locus_panel(rect, xlim, ylim, groups, lead, lead_name, rec_x, rec_y):
    ax = px_axes(*rect)
    ax2 = ax.twinx()
    ax2.plot(rec_x, rec_y, color=REC_COLOR, lw=0.8)
    ax2.set_ylim(ylim[0] * 10, ylim[1] * 10)
    ax2.set_yticks(range(0, 101, 20))
    ax2.tick_params(axis='y', colors=EDGE, labelcolor=RIGHT_COLOR, labelsize=7, length=4, width=0.6, pad=2)
    for s in ax2.spines.values():
        s.set_visible(False)
    ax.set_zorder(ax2.get_zorder() + 1)
    ax.patch.set_visible(False)
    for (gx, gy), col in zip(groups, R2_COLORS):
        ax.scatter(gx, gy, s=22, color=col, edgecolors='#161830', linewidths=0.3, zorder=3)
    ax.scatter([lead[0]], [lead[1]], marker='D', s=15, color=LEAD_COLOR,
               edgecolors='#333333', linewidths=0.3, zorder=4)
    ax.text(lead[0], lead[1] + 0.22, lead_name, ha='center', va='bottom', fontsize=7, color='#222222')
    ax.set_xlim(*xlim)
    ax.set_ylim(*ylim)
    ax.set_xticks([])
    ax.set_yticks(range(0, 11, 2))
    ax.tick_params(axis='y', colors=EDGE, labelcolor=GRAY, labelsize=7, length=4, width=0.6, pad=2)
    for s in ax.spines.values():
        s.set_color(EDGE)
        s.set_linewidth(0.8)
    return ax


def r2_legend(rect):
    lg = px_axes(*rect)
    lg.set_zorder(10)
    lg.set_xlim(0, 1)
    lg.set_ylim(-0.03, 1.24)
    lg.bar([0.24] * 5, np.diff(r2_breaks), width=0.3, bottom=r2_breaks[:-1], color=R2_COLORS)
    for v in r2_breaks[1:-1]:
        lg.plot([0.39, 0.48], [v, v], color='#555555', lw=0.4)
        lg.text(0.53, v, f'{v:.1f}', fontsize=4, va='center', ha='left', color='#444444')
    lg.text(0.5, 1.12, '$r^2$', fontsize=4.5, ha='center', va='center', color='#444444')
    lg.set_xticks([])
    lg.set_yticks([])
    for s in lg.spines.values():
        s.set_color('#777777')
        s.set_linewidth(0.8)


def gene_track(rect, xlim, ylim, names, starts, ends, rows, strands, solid, ticks, ticklabels, xlabel):
    ax = px_axes(*rect)
    ax.set_xlim(*xlim)
    ax.set_ylim(*ylim)
    texts = []
    for n, s, e, r, st, so in zip(names, starts, ends, rows, strands, solid):
        y = r + 0.29
        ax.plot([s, e], [y, y], color=GENE_COLOR, lw=0.6, solid_capstyle='butt')
        if so:
            ax.plot([s, e], [y, y], color=GENE_COLOR, lw=2.0, solid_capstyle='projecting')
        else:
            ax.plot([s, e], [y, y], ls='none', marker='|', ms=2.5, mew=0.6, color=GENE_COLOR)
        label = n + '→' if st == '+' else '←' + n
        texts.append(ax.text((s + e) / 2, r - 0.02, label, ha='center', va='center', fontsize=4.4,
                             style='italic', color=GENE_COLOR))
    # keep gene labels inside the box
    rend = fig.canvas.get_renderer()
    abb = ax.get_window_extent(rend)
    per_px = (xlim[1] - xlim[0]) / abb.width
    for t in texts:
        bb = t.get_window_extent(rend)
        x, yv = t.get_position()
        if bb.x1 > abb.x1 - 2:
            t.set_position((x - (bb.x1 - abb.x1 + 2) * per_px, yv))
        elif bb.x0 < abb.x0 + 2:
            t.set_position((x + (abb.x0 + 2 - bb.x0) * per_px, yv))
    ax.set_yticks([])
    ax.set_xticks(ticks)
    ax.set_xticklabels(ticklabels)
    ax.tick_params(axis='x', colors=EDGE, labelcolor=GRAY, labelsize=7, length=4, width=0.6, pad=3)
    ax.set_xlabel(xlabel, fontsize=7, color=GRAY, labelpad=1)
    for s in ax.spines.values():
        s.set_color(EDGE)
        s.set_linewidth(0.8)


def p_label(s, bold):
    if '^' not in s:
        return s
    m, e = s.split('^')
    if bold:
        return r'$\mathbf{%s}^{\mathbf{%s}}$' % (m, e)
    return r'%s$^{%s}$' % (m, e)


def forest(header_px, unit, hdr_x, val_x, fx0, fx1, xmax, xticks,
           study, maf, ors, lo, hi, pv, i2, hetp):
    top = header_px - 1.5 * unit
    bot = header_px + 10 * unit
    tab = px_axes(0, top, W, bot)
    tab.set_xlim(0, W)
    tab.set_ylim(10, -1.5)
    tab.axis('off')
    headers = ['Study', 'MAF', 'OR', '95%CI', 'P', 'I²', 'HetP']
    hdr_ha = ['left', 'right', 'right', 'right', 'right', 'right', 'right']
    val_ha = ['left', 'right', 'right', 'right', 'left', 'right', 'right']
    for h, x, ha in zip(headers, hdr_x, hdr_ha):
        tab.text(x, 0, h, ha=ha, va='center', fontsize=4.5, weight='bold', color='#222222')
    for i, r in enumerate(ROWS):
        bold = i in (3, 5)
        cells = [study[i], f'{maf[i]:.2f}', f'{ors[i]:.2f}', f'({lo[i]:.2f}−{hi[i]:.2f})',
                 p_label(pv[i], bold), i2[i], hetp[i]]
        for c, x, ha in zip(cells, val_x, val_ha):
            tab.text(x, r, c, ha=ha, va='center', fontsize=4.5,
                     weight='bold' if bold else 'normal', color='#222222')

    fx = px_axes(fx0, top, fx1, bot)
    fx.patch.set_visible(False)
    fx.set_xlim(0.5, xmax)
    fx.set_ylim(10, -1.5)
    fx.plot([1, 1], [-0.6, 10], color='#f08c8c', lw=0.8, zorder=1)
    for i, r in enumerate(ROWS):
        if i == 3 or i == 5:
            h = 0.38 if i == 3 else 0.28
            col = '#ff1aff' if i == 3 else '#86087e'
            fx.add_patch(Polygon([[lo[i], r], [ors[i], r - h], [hi[i], r], [ors[i], r + h]],
                                 closed=True, facecolor=col, edgecolor='none', zorder=3, clip_on=False))
        else:
            fx.plot([lo[i], hi[i]], [r, r], color='#4a4a4a', lw=0.6, zorder=2, clip_on=False)
            fx.plot([ors[i]], [r], marker='s', ms=3.6, color='#3d62d8', zorder=3, clip_on=False)
    for k in ['left', 'right', 'top']:
        fx.spines[k].set_visible(False)
    fx.spines['bottom'].set_color('#444444')
    fx.spines['bottom'].set_linewidth(0.6)
    fx.set_yticks([])
    fx.set_xticks(xticks)
    fx.set_xticklabels([f'{t:g}' for t in xticks])
    fx.tick_params(axis='x', colors='#444444', labelsize=4.5, length=2.5, width=0.5, pad=5)


# ---------------- panel A ----------------
locus_panel((41, 5, 323, 258), (156.0, 156.4), (-0.30, 10.51),
            [(a_navy_x + a_band_x + a_band2_x, a_navy_y + a_band_y + a_band2_y), ([], []), ([], []),
             (a_orange_x, a_orange_y), (a_red_x, a_red_y)],
            a_lead, 'rs2758605', a_rec_x, a_rec_y)
r2_legend((294, 9, 320, 72))
gene_track((41, 267, 323, 320), (156.0, 156.4), (3.75, -0.25),
           a_gene_names, a_gene_start, a_gene_end, a_gene_row, a_gene_strand, a_gene_solid,
           [156.0, 156.1, 156.2, 156.3, 156.4], ['156', '156.1', '156.2', '156.3', '156.4'],
           'Position on chr1 (Mb)')
forest(369, 8.9, [4, 82, 97, 147, 184, 207, 224], [4, 81, 97, 147, 151, 208, 226],
       228, 362, 1.5, [0.5, 1, 1.5],
       a_study, a_maf, a_or, a_lo, a_hi, a_p, a_i2, a_hetp)

# ---------------- panel B ----------------
locus_panel((431, 6, 712, 258), (202.746, 204.67), (-0.27, 10.53),
            [(b_navy_x + b_band_x * 3 + b_band2_x * 2,
              b_navy_y + b_band_y0 + b_band_y1 + b_band_y2 + b_band_y3 + b_band_y4),
             (b_lblue_x, b_lblue_y), (b_green_x, b_green_y),
             (b_orange_x, b_orange_y), (b_red_x, b_red_y)],
            b_lead, 'rs72932727', b_rec_x, b_rec_y)
r2_legend((684, 10, 710, 73))
gene_track((431, 268, 712, 320), (202.746, 204.67), (3.69, -0.28),
           b_gene_names, b_gene_start, b_gene_end, b_gene_row, b_gene_strand, b_gene_solid,
           [203, 203.5, 204, 204.5], ['203', '203.5', '204', '204.5'],
           'Position on chr2 (Mb)')
forest(370, 8.9, [396, 470, 492, 539, 582, 593, 610], [396, 470, 492, 539, 542, 591, 610],
       617, 748, 1.5, [0.5, 1, 1.5],
       b_study, b_maf, b_or, b_lo, b_hi, b_p, b_i2, b_hetp)

# ---------------- panel C ----------------
locus_panel((237, 497, 519, 752), (110.29, 111.545), (-0.48, 10.69),
            [(c_navy_x + c_mid_x + c_band_x * 3 + c_band2_x * 2,
              c_navy_y + c_mid_y + c_band_y0 + c_band_y1 + c_band_y2 + c_band_y3 + c_band_y4),
             (c_lblue_x, c_lblue_y), (c_green_x, c_green_y),
             (c_orange_x, c_orange_y), (c_red_x, c_red_y)],
            c_lead, 'rs9515201', c_rec_x, c_rec_y)
r2_legend((488, 499, 516, 563))
gene_track((237, 758, 519, 808), (110.29, 111.545), (3.6, -0.37),
           c_gene_names, c_gene_start, c_gene_end, c_gene_row, c_gene_strand, c_gene_solid,
           [110.4, 110.6, 110.8, 111.0, 111.2, 111.4], ['110.4', '110.6', '110.8', '111', '111.2', '111.4'],
           'Position on chr13 (Mb)')
forest(859, 8.78, [203, 279, 298, 342, 373, 388, 413], [203, 279, 298, 341, 345, 388, 413],
       421, 553, 2.0, [0.5, 1, 1.5, 2],
       c_study, c_maf, c_or, c_lo, c_hi, c_p, c_i2, c_hetp)

# ---------------- labels ----------------
ylab = r'$-$log$_{10}$($\it{P}$$-$value)'
for x, y in [(15, 131), (397, 132), (205, 625)]:
    ftext(x, y, ylab, rotation=90, ha='center', va='center', fontsize=9, color=GRAY)
for x, y in [(356, 131), (747, 132), (550, 625)]:
    ftext(x, y, 'Recombination rate (cM/Mb)', rotation=270, ha='center', va='center',
          fontsize=7, color=RIGHT_COLOR)
for x, y, s in [(335, 292, '1 gene\nomitted'), (725, 294, '4 genes\nomitted'), (530, 784, '1 gene\nomitted')]:
    ftext(x, y, s, ha='left', va='center', fontsize=7, color=GRAY, linespacing=1.5)
for x, y, s in [(7.5, 10, 'A'), (389, 11, 'B'), (199, 497, 'C')]:
    ftext(x, y, s, ha='center', va='center', fontsize=11, weight='bold', color='#111111')

fig.savefig('out.png', dpi=100, facecolor='white')
